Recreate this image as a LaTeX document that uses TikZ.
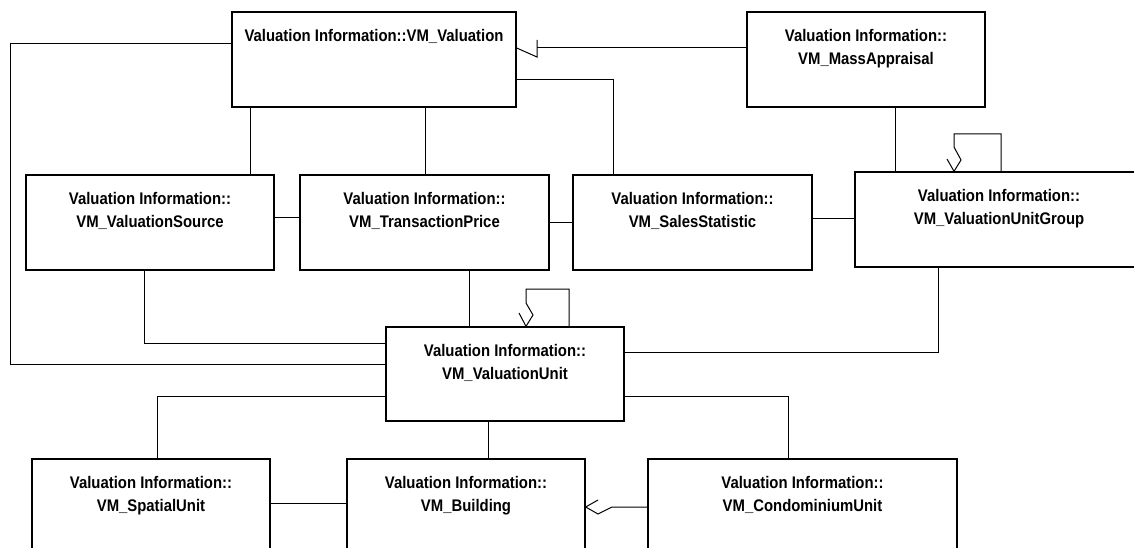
\documentclass[tikz,border=0pt]{standalone}
\usepackage{fontspec}
\setmainfont{Liberation Sans}[FakeStretch=0.886]

\begin{document}
\begin{tikzpicture}[x=1pt, y=-1pt,
    cls/.style={draw, line width=1.3pt, minimum height=95pt, inner sep=0pt},
    nm/.style={anchor=north, yshift=-18pt, align=center, inner sep=0pt,
      font=\fontsize{16.8}{22.5}\selectfont\bfseries},
    conn/.style={line width=1pt}]
    \useasboundingbox (0,0) rectangle (1134,548);
    \clip (0,0) rectangle (1134,548);

    \node[cls, minimum width=284pt, label={[nm]90:{Valuation Information::VM\_Valuation}}] (val) at (374,59.5) {};
    \node[cls, minimum width=238pt, label={[nm]90:{Valuation Information::\\VM\_MassAppraisal}}] (mass) at (866,59.5) {};
    \node[cls, minimum width=248pt, label={[nm]90:{Valuation Information::\\VM\_ValuationSource}}] (src) at (150,222.5) {};
    \node[cls, minimum width=249pt, label={[nm]90:{Valuation Information::\\VM\_TransactionPrice}}] (price) at (424.5,222.5) {};
    \node[cls, minimum width=239pt, label={[nm]90:{Valuation Information::\\VM\_SalesStatistic}}] (sales) at (692.5,222.5) {};
    \node[cls, minimum width=288pt, label={[nm]90:{Valuation Information::\\VM\_ValuationUnitGroup}}] (group) at (999,219.5) {};
    \node[cls, minimum width=238pt, minimum height=94pt, label={[nm]90:{Valuation Information::\\VM\_ValuationUnit}}] (vu) at (505,374) {};
    \node[cls, minimum width=238pt, label={[nm]90:{Valuation Information::\\VM\_SpatialUnit}}] (spatial) at (151,506.5) {};
    \node[cls, minimum width=238pt, label={[nm]90:{Valuation Information::\\VM\_Building}}] (bldg) at (466,506.5) {};
    \node[cls, minimum width=309pt, label={[nm]90:{Valuation Information::\\VM\_CondominiumUnit}}] (condo) at (802.5,506.5) {};

    \draw[conn] (val.west |- 0,44) -| (10,364) -- (vu.west |- 0,364);
    \draw[conn] (val.south -| 250,0) -- (src.north -| 250,0);
    \draw[conn] (val.south -| 425,0) -- (price.north -| 425,0);
    \draw[conn] (val.east |- 0,80) -| (sales.north -| 613,0);
    \draw[conn] (mass.west |- 0,48) -- (537,48);
    \draw[conn] (537,40) -- (537,57) -- (val.east |- 0,48);
    \draw[conn] (mass.south -| 895,0) -- (group.north -| 895,0);
    \draw[conn] (src.east |- 0,217) -- (price.west |- 0,217);
    \draw[conn] (price.east |- 0,222) -- (sales.west |- 0,222);
    \draw[conn] (sales.east |- 0,218) -- (group.west |- 0,218);
    \draw[conn] (group.north -| 1001,0) |- (954,134) -- (954,147) -- (961,160) -- (group.north -| 954,0) -- (947,159);
    \draw[conn] (src.south -| 144,0) |- (vu.west |- 0,343);
    \draw[conn] (price.south -| 469,0) -- (vu.north -| 469,0);
    \draw[conn] (vu.north -| 569,0) |- (526,289) -- (526,303) -- (533,315) -- (vu.north -| 526,0) -- (519,313);
    \draw[conn] (group.south -| 938,0) |- (vu.east |- 0,352);
    \draw[conn] (vu.west |- 0,396) -| (spatial.north -| 157,0);
    \draw[conn] (vu.south -| 488,0) -- (bldg.north -| 488,0);
    \draw[conn] (vu.east |- 0,396) -| (condo.north -| 788,0);
    \draw[conn] (spatial.east |- 0,503) -- (bldg.west |- 0,503);
    \draw[conn] (condo.west |- 0,507) -- (612,507) -- (598,514) -- (bldg.east |- 0,507) -- (598,500);
\end{tikzpicture}
\end{document}
